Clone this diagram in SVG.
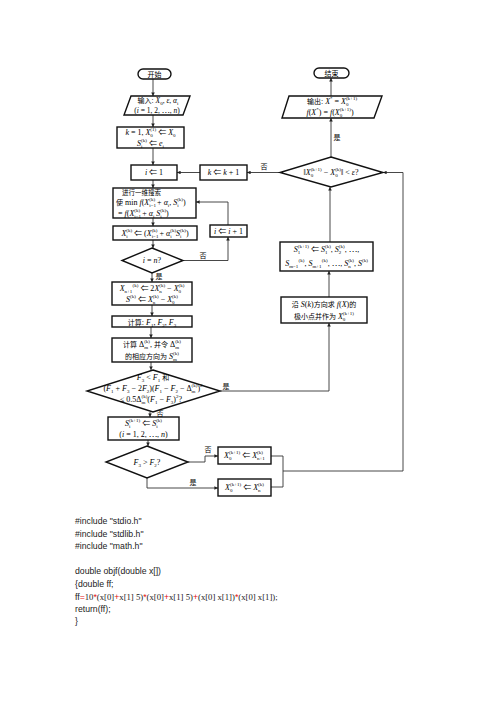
<svg xmlns="http://www.w3.org/2000/svg" width="496" height="702" viewBox="0 0 496 702">
<style>
.bx{fill:#fff;stroke:#111;stroke-width:1.4}
.ln{fill:none;stroke:#333;stroke-width:0.9}
.t{font-family:"Liberation Serif","Noto Sans CJK SC",serif;font-size:8px;fill:#000;text-anchor:middle}
.s{text-anchor:start}
.i{font-style:italic}
.c{font-family:"Noto Sans CJK SC",sans-serif;font-size:7px}
.sb{font-size:5px;baseline-shift:-1.8px}
.sp{font-size:5px;baseline-shift:3.6px}
.lb{font-family:"Noto Sans CJK SC",sans-serif;font-size:7px;fill:#000;text-anchor:middle}
.code{font-family:"Liberation Sans",Arial,sans-serif;font-size:8.7px;fill:#222}
.cs{font-family:"Liberation Serif","Times New Roman",serif}
.r{fill:#e41010}
</style>
<defs>
<marker id="ah" viewBox="0 0 6 6" refX="6" refY="3" markerWidth="4" markerHeight="4" orient="auto">
<path d="M0,0 L6,3 L0,6 z" fill="#222"/>
</marker>
</defs>
<rect width="496" height="702" fill="#fff"/>

<g id="connectors">
<path class="ln" d="M153,79 V96" marker-end="url(#ah)"/>
<path class="ln" d="M153,115 V127" marker-end="url(#ah)"/>
<path class="ln" d="M153,148 V165" marker-end="url(#ah)"/>
<path class="ln" d="M200,172.5 H177" marker-end="url(#ah)"/>
<path class="ln" d="M280,172.5 H247" marker-end="url(#ah)"/>
<path class="ln" d="M153,180 V188" marker-end="url(#ah)"/>
<path class="ln" d="M153,218 V226" marker-end="url(#ah)"/>
<path class="ln" d="M153,240 V248" marker-end="url(#ah)"/>
<path class="ln" d="M183,260.5 H228 V237" marker-end="url(#ah)"/>
<path class="ln" d="M228,225 V202 H196" marker-end="url(#ah)"/>
<path class="ln" d="M152,273 V282" marker-end="url(#ah)"/>
<path class="ln" d="M152,305 V316" marker-end="url(#ah)"/>
<path class="ln" d="M151,327 V338" marker-end="url(#ah)"/>
<path class="ln" d="M151,362 V370" marker-end="url(#ah)"/>
<path class="ln" d="M220,391 H329 V323" marker-end="url(#ah)"/>
<path class="ln" d="M329,297 V271" marker-end="url(#ah)"/>
<path class="ln" d="M330,242 V187" marker-end="url(#ah)"/>
<path class="ln" d="M331,157 V118" marker-end="url(#ah)"/>
<path class="ln" d="M331,96 V78" marker-end="url(#ah)"/>
<path class="ln" d="M150,412 V417" marker-end="url(#ah)"/>
<path class="ln" d="M148,440 V446" marker-end="url(#ah)"/>
<path class="ln" d="M188,462 H205 V456 H218" marker-end="url(#ah)"/>
<path class="ln" d="M147,478 V488 H218" marker-end="url(#ah)"/>
<path class="ln" d="M271,456 H283 V487 H271"/>
<path class="ln" d="M283,471 H403 V172.5 H383" marker-end="url(#ah)"/>
<text class="lb" x="264" y="169">否</text>
<text class="lb" x="203" y="258">否</text>
<text class="lb" x="159" y="279">是</text>
<text class="lb" x="226" y="389">是</text>
<text class="lb" x="337" y="140">是</text>
<text class="lb" x="160" y="416">否</text>
<text class="lb" x="208" y="452">否</text>
<text class="lb" x="193" y="485">是</text>
</g>

<g id="start">
<rect class="bx" x="138" y="69" width="33" height="10" rx="5"/>
<text class="t c" x="154.5" y="76.7">开始</text>
</g>

<g id="input">
<polygon class="bx" points="131,96 190,96 183,115 124,115"/>
<text class="t" x="158" y="103" style="font-size:7.5px"><tspan class="c">输入</tspan>: <tspan class="i">X</tspan><tspan class="sb">0</tspan>, <tspan class="i">ε</tspan>, <tspan class="i">α</tspan><tspan class="sb">i</tspan></text>
<text class="t" x="157" y="112.8" style="font-size:7.5px"><tspan>(</tspan><tspan class="i">i</tspan> = 1, 2, ⋯, <tspan class="i">n</tspan>)</text>
</g>

<g id="init">
<rect class="bx" x="117" y="127" width="67" height="21"/>
<text class="t" x="150.5" y="135.3"><tspan class="i">k</tspan> = 1, <tspan class="i">X</tspan><tspan class="sb">0</tspan><tspan class="sp" dx="-2.5">(1)</tspan> ⇐ <tspan class="i">X</tspan><tspan class="sb">0</tspan></text>
<text class="t" x="150.5" y="145.8"><tspan class="i">S</tspan><tspan class="sb">i</tspan><tspan class="sp" dx="-1.4">(k)</tspan> ⇐ <tspan class="i">e</tspan><tspan class="sb">i</tspan></text>
</g>

<g id="i1">
<rect class="bx" x="131" y="165" width="46" height="15"/>
<text class="t" x="154" y="175.3"><tspan class="i">i</tspan> ⇐ 1</text>
</g>

<g id="kinc">
<rect class="bx" x="200" y="165" width="47" height="15"/>
<text class="t" x="223.5" y="175.3"><tspan class="i">k</tspan> ⇐ <tspan class="i">k</tspan> + 1</text>
</g>

<g id="linesearch">
<rect class="bx" x="113" y="188" width="83" height="30"/>
<text class="t c s" x="122" y="194.8" style="font-size:6.5px">进行一维搜索</text>
<text class="t s" x="116" y="205"><tspan class="c">使</tspan> min <tspan class="i">f</tspan>(<tspan class="i">X</tspan><tspan class="sb">i−1</tspan><tspan class="sp" dx="-6.7">(k)</tspan> + <tspan class="i">α</tspan><tspan class="sb">i</tspan>, <tspan class="i">S</tspan><tspan class="sb">i</tspan><tspan class="sp" dx="-1.4">(k)</tspan>)</text>
<text class="t s" x="118" y="216"><tspan>= </tspan><tspan class="i">f</tspan>(<tspan class="i">X</tspan><tspan class="sb">i−1</tspan><tspan class="sp" dx="-6.7">(k)</tspan> + <tspan class="i">α</tspan><tspan class="sb">i</tspan> <tspan class="i">S</tspan><tspan class="sb">i</tspan><tspan class="sp" dx="-1.4">(k)</tspan>)</text>
</g>

<g id="xi">
<rect class="bx" x="113" y="226" width="84" height="14"/>
<text class="t" x="155" y="235.8"><tspan class="i">X</tspan><tspan class="sb">i</tspan><tspan class="sp" dx="-1.4">(k)</tspan> ⇐ (<tspan class="i">X</tspan><tspan class="sb">i−1</tspan><tspan class="sp" dx="-6.7">(k)</tspan> + <tspan class="i">α</tspan><tspan class="sb">i</tspan><tspan class="sp" dx="-1.4">(k)</tspan><tspan class="i">S</tspan><tspan class="sb">i</tspan><tspan class="sp" dx="-1.4">(k)</tspan>)</text>
</g>

<g id="iinc">
<rect class="bx" x="210" y="225" width="37" height="12"/>
<text class="t" x="228.5" y="233.8"><tspan class="i">i</tspan> ⇐ <tspan class="i">i</tspan> + 1</text>
</g>

<g id="d_in">
<polygon class="bx" points="152,248 183,260.5 152,273 122,260.5"/>
<text class="t" x="152" y="263.3"><tspan class="i">i</tspan> = <tspan class="i">n</tspan>?</text>
</g>

<g id="reflect">
<rect class="bx" x="112" y="282" width="80" height="23"/>
<text class="t" x="152" y="291"><tspan class="i">X</tspan><tspan class="sb">n+1</tspan><tspan class="sp" dx="0.2">(k)</tspan> ⇐ 2<tspan class="i">X</tspan><tspan class="sb">n</tspan><tspan class="sp" dx="-2.5">(k)</tspan> − <tspan class="i">X</tspan><tspan class="sb">0</tspan><tspan class="sp" dx="-2.5">(k)</tspan></text>
<text class="t" x="152" y="302.2"><tspan class="i">S</tspan><tspan class="sp">(k)</tspan> ⇐ <tspan class="i">X</tspan><tspan class="sb">n</tspan><tspan class="sp" dx="-2.5">(k)</tspan> − <tspan class="i">X</tspan><tspan class="sb">0</tspan><tspan class="sp" dx="-2.5">(k)</tspan></text>
</g>

<g id="calcF">
<rect class="bx" x="112" y="316" width="80" height="11"/>
<text class="t" x="152" y="324.5"><tspan class="c">计算</tspan>: <tspan class="i">F</tspan><tspan class="sb">1</tspan>, <tspan class="i">F</tspan><tspan class="sb">2</tspan>, <tspan class="i">F</tspan><tspan class="sb">3</tspan></text>
</g>

<g id="calcD">
<rect class="bx" x="112" y="338" width="80" height="24"/>
<text class="t" x="152" y="347"><tspan class="c">计算</tspan> Δ<tspan class="sb">m</tspan><tspan class="sp" dx="-3.9">(k)</tspan>, <tspan class="c">并令</tspan> Δ<tspan class="sb">m</tspan><tspan class="sp" dx="-3.9">(k)</tspan></text>
<text class="t" x="152" y="358.5"><tspan class="c">的相应方向为</tspan> <tspan class="i">S</tspan><tspan class="sb">m</tspan><tspan class="sp" dx="-3.9">(k)</tspan></text>
</g>

<g id="d_powell">
<polygon class="bx" points="153,370 220,391 153,412 87,391"/>
<text class="t" x="153" y="380"><tspan class="i">F</tspan><tspan class="sb">3</tspan> &lt; <tspan class="i">F</tspan><tspan class="sb">1</tspan> <tspan class="c">和</tspan></text>
<text class="t" x="153" y="391"><tspan>(</tspan><tspan class="i">F</tspan><tspan class="sb">1</tspan> + <tspan class="i">F</tspan><tspan class="sb">3</tspan> − 2<tspan class="i">F</tspan><tspan class="sb">2</tspan>)(<tspan class="i">F</tspan><tspan class="sb">1</tspan> − <tspan class="i">F</tspan><tspan class="sb">2</tspan> − Δ<tspan class="sb">m</tspan><tspan class="sp" dx="-3.9">(k)</tspan>)<tspan class="sp">2</tspan></text>
<text class="t" x="151" y="402"><tspan>≤ 0.5Δ</tspan><tspan class="sb">m</tspan><tspan class="sp" dx="-3.9">(k)</tspan>(<tspan class="i">F</tspan><tspan class="sb">1</tspan> − <tspan class="i">F</tspan><tspan class="sb">3</tspan>)<tspan class="sp">2</tspan>?</text>
</g>

<g id="keepS">
<rect class="bx" x="108" y="417" width="71" height="23"/>
<text class="t" x="143.5" y="426.3"><tspan class="i">S</tspan><tspan class="sb">i</tspan><tspan class="sp" dx="-1.4">(k+1)</tspan> ⇐ <tspan class="i">S</tspan><tspan class="sb">i</tspan><tspan class="sp" dx="-1.4">(k)</tspan></text>
<text class="t" x="143.5" y="437.4"><tspan>(</tspan><tspan class="i">i</tspan> = 1, 2, ⋯, <tspan class="i">n</tspan>)</text>
</g>

<g id="d_F">
<polygon class="bx" points="147,446 188,462 147,478 106,462"/>
<text class="t" x="147" y="464.8"><tspan class="i">F</tspan><tspan class="sb">3</tspan> &gt; <tspan class="i">F</tspan><tspan class="sb">2</tspan>?</text>
</g>

<g id="xn1">
<rect class="bx" x="218" y="447" width="53" height="17"/>
<text class="t" x="244.5" y="458.3"><tspan class="i">X</tspan><tspan class="sb">0</tspan><tspan class="sp" dx="-2.5">(k+1)</tspan> ⇐ <tspan class="i">X</tspan><tspan class="sb">n+1</tspan><tspan class="sp" dx="-7.8">(k)</tspan></text>
</g>

<g id="xn">
<rect class="bx" x="218" y="479" width="53" height="17"/>
<text class="t" x="244.5" y="490.3"><tspan class="i">X</tspan><tspan class="sb">0</tspan><tspan class="sp" dx="-2.5">(k+1)</tspan> ⇐ <tspan class="i">X</tspan><tspan class="sb">n</tspan><tspan class="sp" dx="-2.5">(k)</tspan></text>
</g>

<g id="minS">
<rect class="bx" x="281" y="297" width="86" height="26"/>
<text class="t" x="324" y="307"><tspan class="c">沿</tspan> <tspan class="i">S</tspan>(<tspan class="i">k</tspan>)<tspan class="c">方向求</tspan> <tspan class="i">f</tspan>(<tspan class="i">X</tspan>)<tspan class="c">的</tspan></text>
<text class="t" x="324" y="318.5"><tspan class="c">极小点并作为</tspan> <tspan class="i">X</tspan><tspan class="sb">0</tspan><tspan class="sp" dx="-2.5">(k+1)</tspan></text>
</g>

<g id="newS">
<rect class="bx" x="280" y="242" width="93" height="29"/>
<text class="t" x="326.5" y="251.8"><tspan class="i">S</tspan><tspan class="sb">1</tspan><tspan class="sp" dx="-2.5">(k+1)</tspan> ⇐ <tspan class="i">S</tspan><tspan class="sb">1</tspan><tspan class="sp" dx="-2.5">(k)</tspan>, <tspan class="i">S</tspan><tspan class="sb">2</tspan><tspan class="sp" dx="-2.5">(k)</tspan>, ⋯,</text>
<text class="t" x="326.5" y="266"><tspan class="i">S</tspan><tspan class="sb">m−1</tspan><tspan class="sp" dx="0.2">(k)</tspan>, <tspan class="i">S</tspan><tspan class="sb">m+1</tspan><tspan class="sp" dx="0.2">(k)</tspan>, ⋯, <tspan class="i">S</tspan><tspan class="sb">n</tspan><tspan class="sp" dx="-2.5">(k)</tspan>, <tspan class="i">S</tspan><tspan class="sp">(k)</tspan></text>
</g>

<g id="d_conv">
<polygon class="bx" points="331,157 383,172.5 331,187 280,172.5"/>
<text class="t" x="331" y="175.3">‖<tspan class="i">X</tspan><tspan class="sb">0</tspan><tspan class="sp" dx="-2.5">(k+1)</tspan> − <tspan class="i">X</tspan><tspan class="sb">0</tspan><tspan class="sp" dx="-2.5">(k)</tspan>‖ &lt; <tspan class="i">ε</tspan>?</text>
</g>

<g id="output">
<polygon class="bx" points="289,96 382,96 374,118 282,118"/>
<text class="t" x="332" y="104"><tspan class="c">输出</tspan>: <tspan class="i">X</tspan><tspan class="sp">*</tspan> = <tspan class="i">X</tspan><tspan class="sb">0</tspan><tspan class="sp" dx="-2.5">(k+1)</tspan></text>
<text class="t" x="330" y="115.3"><tspan class="i">f</tspan>(<tspan class="i">X</tspan><tspan class="sp">*</tspan>) = <tspan class="i">f</tspan>(<tspan class="i">X</tspan><tspan class="sb">0</tspan><tspan class="sp" dx="-2.5">(k+1)</tspan>)</text>
</g>

<g id="end">
<rect class="bx" x="314" y="68" width="35" height="10" rx="5"/>
<text class="t c" x="331.5" y="75.7">结束</text>
</g>

<g id="code">
<text class="code" x="75" y="524">#include "stdio.h"</text>
<text class="code" x="75" y="537">#include "stdlib.h"</text>
<text class="code" x="75" y="549">#include "math.h"</text>
<text class="code" x="75" y="574">double objf(double x[])</text>
<text class="code" x="75" y="587">{double ff;</text>
<text class="code" x="75" y="599.5">ff<tspan class="r">=</tspan><tspan class="cs">10</tspan><tspan class="r">*</tspan><tspan class="cs">(x[0]</tspan><tspan class="r">+</tspan><tspan class="cs">x[1] 5)</tspan><tspan class="r">*</tspan><tspan class="cs">(x[0]</tspan><tspan class="r">+</tspan><tspan class="cs">x[1] 5)</tspan><tspan class="r">+</tspan><tspan class="cs">(x[0] x[1])</tspan><tspan class="r">*</tspan><tspan class="cs">(x[0] x[1]);</tspan></text>
<text class="code" x="75" y="612">return(ff);</text>
<text class="code" x="75" y="624">}</text>
</g>
</svg>
